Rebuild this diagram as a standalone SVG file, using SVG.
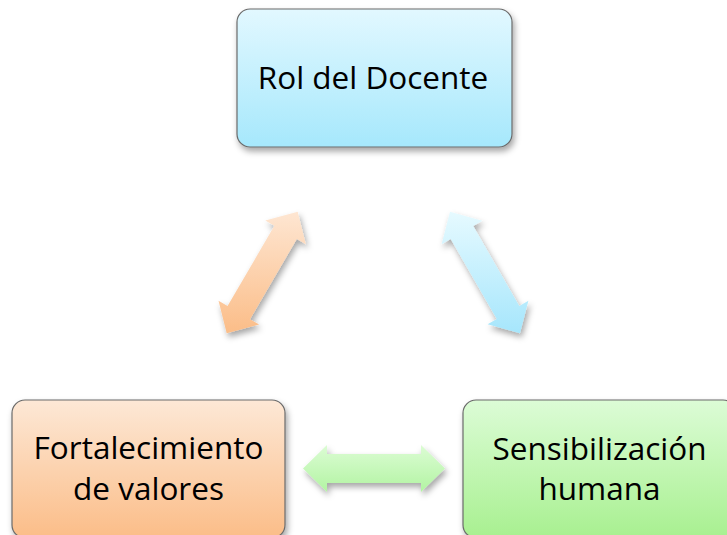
<svg xmlns="http://www.w3.org/2000/svg" width="727" height="535" viewBox="0 0 727 535">
<style>
.box{stroke:#6b6b6b;stroke-width:1.2}
.lbl{font-family:"Open Sans","Noto Sans",sans-serif;font-size:31.5px;fill:#000;text-anchor:middle}
</style>
<defs>
<linearGradient id="gBlue" x1="0" y1="0" x2="0" y2="1"><stop offset="0" stop-color="#e2f8ff"/><stop offset="1" stop-color="#a6e8fc"/></linearGradient>
<linearGradient id="gOrange" x1="0" y1="0" x2="0" y2="1"><stop offset="0" stop-color="#fde8d6"/><stop offset="1" stop-color="#fbbd88"/></linearGradient>
<linearGradient id="gGreen" x1="0" y1="0" x2="0" y2="1"><stop offset="0" stop-color="#dcfcd6"/><stop offset="1" stop-color="#a8f090"/></linearGradient>
<linearGradient id="aOrange" x1="0" y1="0" x2="0" y2="1"><stop offset="0" stop-color="#fee6d2"/><stop offset="1" stop-color="#fbbd88"/></linearGradient>
<linearGradient id="aBlue" x1="0" y1="0" x2="0" y2="1"><stop offset="0" stop-color="#e6faff"/><stop offset="1" stop-color="#a6e6fc"/></linearGradient>
<linearGradient id="aGreen" x1="0" y1="0" x2="0" y2="1"><stop offset="0" stop-color="#dcfcd4"/><stop offset="1" stop-color="#b2f4a2"/></linearGradient>
<filter id="sh" x="-10%" y="-10%" width="130%" height="130%"><feDropShadow dx="2" dy="4" stdDeviation="3" flood-color="#000" flood-opacity="0.35"/></filter>
</defs>
<g id="connectors">
<polygon filter="url(#sh)" fill="url(#aOrange)" points="297.7,211.7 305.89,244.28 296.83,238.99 250.03,319.13 259.09,324.42 226.7,333.3 218.51,300.72 227.57,306.01 274.37,225.87 265.31,220.58"/>
<polygon filter="url(#sh)" fill="url(#aBlue)" points="450,211.7 482.34,220.78 473.24,226.01 519.30,306.01 528.40,300.78 520,333.3 487.66,324.22 496.76,318.99 450.70,238.99 441.60,244.22"/>
<polygon filter="url(#sh)" fill="url(#aGreen)" points="303,468.5 327,445 327,454 421,454 421,445 445,468.5 421,492 421,483 327,483 327,492"/>
</g>
<g id="rol">
<rect class="box" filter="url(#sh)" x="237" y="9" width="275" height="138" rx="13" fill="url(#gBlue)"/>
<text class="lbl" x="373" y="89">Rol del Docente</text>
</g>
<g id="fortalecimiento">
<rect class="box" filter="url(#sh)" x="12" y="400" width="273" height="138" rx="13" fill="url(#gOrange)"/>
<text class="lbl" x="148.5" y="459">Fortalecimiento</text>
<text class="lbl" x="148.5" y="500">de valores</text>
</g>
<g id="sensibilizacion">
<rect class="box" filter="url(#sh)" x="463" y="400" width="273" height="138" rx="13" fill="url(#gGreen)"/>
<text class="lbl" x="599.5" y="460">Sensibilización</text>
<text class="lbl" x="599.5" y="500">humana</text>
</g>
</svg>
